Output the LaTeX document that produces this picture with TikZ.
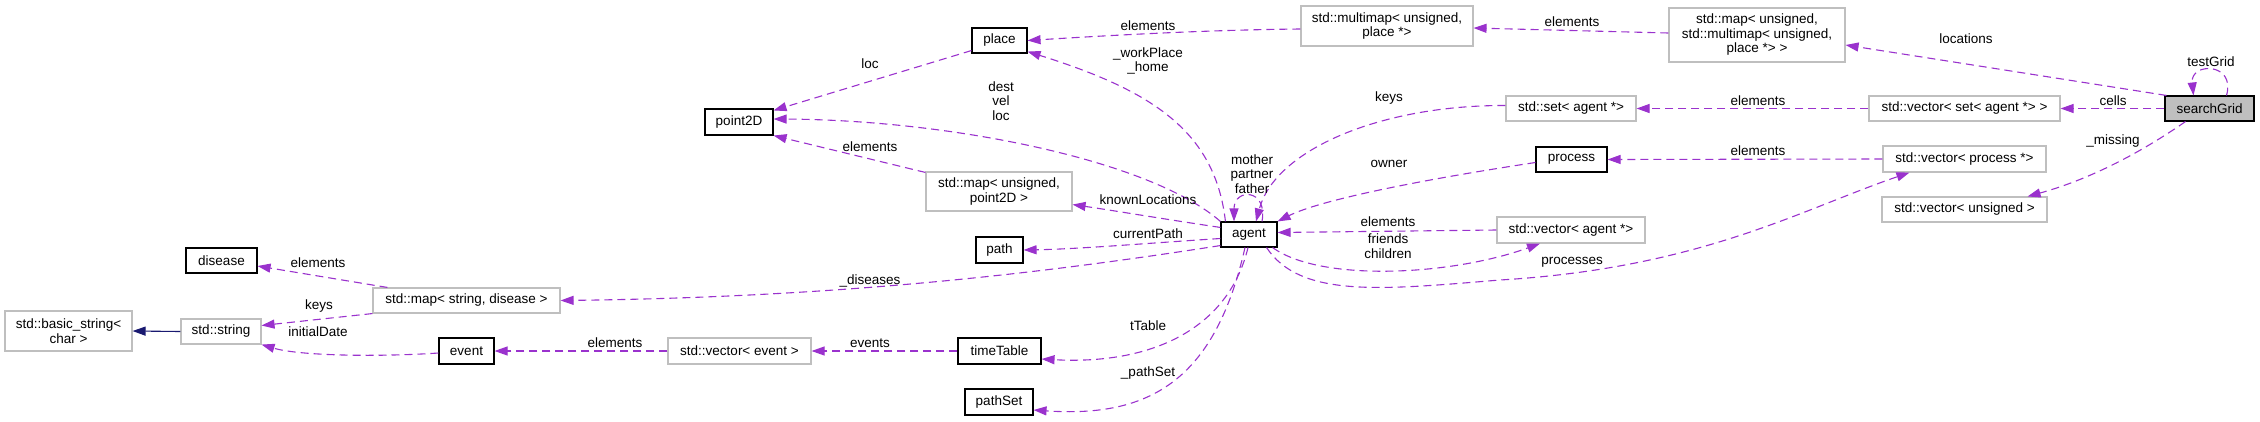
\documentclass[tikz,border=0pt]{standalone}
\usepackage{fontspec}
\setmainfont{Liberation Sans}
\usetikzlibrary{arrows.meta,calc}
\definecolor{orchid}{HTML}{9A32CD}
\definecolor{navyedge}{HTML}{191970}
\definecolor{boxgray}{HTML}{BFBFBF}
\newcommand{\dxfont}{\fontsize{13.5}{14.5}\selectfont}
\tikzset{
  base/.style={fill=white, inner sep=0pt, align=center, font=\dxfont},
  cls/.style={base, draw=black, line width=1.1pt},
  ext/.style={base, draw=boxgray, line width=1.1pt},
  cur/.style={base, draw=black, line width=1.1pt, fill=boxgray},
  use/.style={draw=orchid, line width=1.1pt, dash pattern=on 8pt off 5pt, -{Triangle[length=13pt,width=9pt]}},
  inh/.style={draw=navyedge, line width=1.1pt, -{Triangle[length=13pt,width=9pt]}},
  elab/.style={inner sep=0pt, align=center, font=\dxfont}
}
\begin{document}
\begin{tikzpicture}[x=1pt,y=-1pt]
\useasboundingbox (0,0) rectangle (2260,421);
% nodes
\node[ext, minimum width=127pt, minimum height=40pt] (bstr) at (68.5,331) {std::basic\_string<\\char >};
\node[ext, minimum width=80pt, minimum height=25pt] (str) at (221,331.5) {std::string};
\node[cls, minimum width=71pt, minimum height=25pt] (disease) at (221.5,260.5) {disease};
\node[ext, minimum width=187pt, minimum height=25pt] (mapsd) at (466.5,300.5) {std::map< string, disease >};
\node[cls, minimum width=55pt, minimum height=26pt] (event) at (466.5,351) {event};
\node[ext, minimum width=143pt, minimum height=26pt] (vevent) at (739.5,351) {std::vector< event >};
\node[cls, minimum width=68pt, minimum height=26pt] (point) at (739,122) {point2D};
\node[cls, minimum width=55pt, minimum height=25pt] (place) at (999.5,40.5) {place};
\node[ext, minimum width=146pt, minimum height=39pt] (mapup) at (999,191.5) {std::map< unsigned,\\point2D >};
\node[cls, minimum width=47pt, minimum height=26pt] (path) at (999.5,250) {path};
\node[cls, minimum width=83pt, minimum height=26pt] (ttable) at (999.5,351) {timeTable};
\node[cls, minimum width=68pt, minimum height=26pt] (pathset) at (999,402) {pathSet};
\node[cls, minimum width=56pt, minimum height=25pt] (agent) at (1249,234.5) {agent};
\node[ext, minimum width=172pt, minimum height=40pt] (mmap) at (1387,26) {std::multimap< unsigned,\\place *>};
\node[ext, minimum width=130pt, minimum height=25pt] (setag) at (1571,108.5) {std::set< agent *>};
\node[cls, minimum width=71pt, minimum height=25pt] (process) at (1571.5,159.5) {process};
\node[ext, minimum width=148pt, minimum height=26pt] (vagent) at (1571,230) {std::vector< agent *>};
\node[ext, minimum width=176pt, minimum height=54pt] (mapum) at (1757,35) {std::map< unsigned,\\std::multimap< unsigned,\\place *> >};
\node[ext, minimum width=191pt, minimum height=25pt] (vset) at (1964.5,108.5) {std::vector< set< agent *> >};
\node[ext, minimum width=163pt, minimum height=26pt] (vproc) at (1964.5,159) {std::vector< process *>};
\node[ext, minimum width=165pt, minimum height=25pt] (vuns) at (1964.5,209.5) {std::vector< unsigned >};
\node[cur, minimum width=89pt, minimum height=25pt] (sgrid) at (2209.5,108.5) {searchGrid};
% edges
\draw[inh] (str.west) -- (bstr.east);
\draw[use] ($(mapsd.north west)+(15,0)$) -- ($(disease.east)+(0,5.5)$);
\draw[use] (mapsd.south west) -- ($(str.east)+(0,-6)$);
\draw[use] ($(event.west)+(0,2)$) .. controls (380,357) and (300,356) .. (str.south east);
\draw[use] ($(agent.south west)+(0,-2)$) .. controls (1050,272) and (850,297) .. (mapsd.east);
\draw[use] (vevent.west) -- (event.east);
\draw[use] (ttable.west) -- (vevent.east);
\draw[use] ($(agent.south)+(-1,0)$) .. controls (1228,330) and (1150,365) .. ($(ttable.east)+(0,8)$);
\draw[use] ($(agent.south)+(-4,0)$) .. controls (1215,380) and (1150,418) .. ($(pathset.east)+(0,8)$);
\draw[use] ($(agent.west)+(0,4)$) .. controls (1150,243) and (1080,249) .. (path.east);
\draw[use] ($(agent.north west)+(0,6)$) .. controls (1170,220) and (1110,210) .. ($(mapup.south east)+(0,-7)$);
\draw[use] (agent.north west) .. controls (1150,160) and (950,120) .. ($(point.east)+(0,-3)$);
\draw[use] ($(place.south west)+(0,-3)$) -- ($(point.north east)+(0,2)$);
\draw[use] ($(mapup.north west)+(0,1)$) -- (point.south east);
\draw[use] ($(agent.north west)+(5,0)$) .. controls (1215,130) and (1150,90) .. ($(place.south east)+(0,-2)$);
\draw[use] ($(mmap.west)+(0,3)$) .. controls (1200,30) and (1100,36) .. (place.east);
\draw[use] ($(mapum.west)+(0,-2)$) -- ($(mmap.east)+(0,2)$);
\draw[use] ($(sgrid.north west)+(2,0)$) -- ($(mapum.east)+(0,10)$);
\draw[use] ($(sgrid.north)+(17,0)$) .. controls (2236,62) and (2190,62) .. ($(sgrid.north)+(-16,0)$);
\draw[use] (sgrid.west) -- (vset.east);
\draw[use] (vset.west) -- (setag.east);
\draw[use] ($(setag.west)+(0,-3)$) .. controls (1380,105) and (1275,150) .. ($(agent.north)+(7,0)$);
\draw[use] ($(process.west)+(0,3)$) .. controls (1420,180) and (1320,200) .. (agent.north east);
\draw[use] ($(agent.north)+(13,0)$) .. controls (1268,188) and (1234,188) .. ($(agent.north)+(-15,0)$);
\draw[use] (vagent.west) -- ($(agent.east)+(0,-2)$);
\draw[use] ($(agent.south east)+(-5,0)$) .. controls (1320,282) and (1450,276) .. ($(vagent.south)+(-31,0)$);
\draw[use] ($(agent.south east)+(-11,0)$) .. controls (1300,298) and (1380,290) .. (1500,280) .. controls (1700,268) and (1800,210) .. ($(vproc.south west)+(27,0)$);
\draw[use] (vproc.west) -- (process.east);
\draw[use] ($(sgrid.south)+(-24,0)$) .. controls (2130,160) and (2080,182) .. ($(vuns.north east)+(-20,0)$);
% labels
\node[elab] (l1) at (318,263) {elements};
\node[elab] (l2) at (319,306) {keys};
\node[elab] (l3) at (318,332) {initialDate};
\node[elab] (l4) at (870,281) {\_diseases};
\node[elab] (l5) at (615,343) {elements};
\node[elab] (l6) at (870,343) {events};
\node[elab] (l7) at (1148,326) {tTable};
\node[elab] (l8) at (1148,373) {\_pathSet};
\node[elab] (l9) at (1148,234) {currentPath};
\node[elab] (l10) at (1148,200) {knownLocations};
\node[elab] (l11) at (1001,101) {dest\\vel\\loc};
\node[elab] (l12) at (870,64) {loc};
\node[elab] (l13) at (870,147) {elements};
\node[elab] (l14) at (1148,61) {\_workPlace\\\_home};
\node[elab] (l15) at (1148,26) {elements};
\node[elab] (l16) at (1572,22) {elements};
\node[elab] (l17) at (1966,39) {locations};
\node[elab] (l18) at (2211,62) {testGrid};
\node[elab] (l19) at (2113,101) {cells};
\node[elab] (l20) at (1758,101) {elements};
\node[elab] (l21) at (1389,98) {keys};
\node[elab] (l22) at (1389,164) {owner};
\node[elab] (l23) at (1252,174) {mother\\partner\\father};
\node[elab] (l24) at (1388,222) {elements};
\node[elab] (l25) at (1388,246) {friends\\children};
\node[elab] (l26) at (1572,262) {processes};
\node[elab] (l27) at (1758,151) {elements};
\node[elab] (l28) at (2113,141) {\_missing};
\end{tikzpicture}
\end{document}
